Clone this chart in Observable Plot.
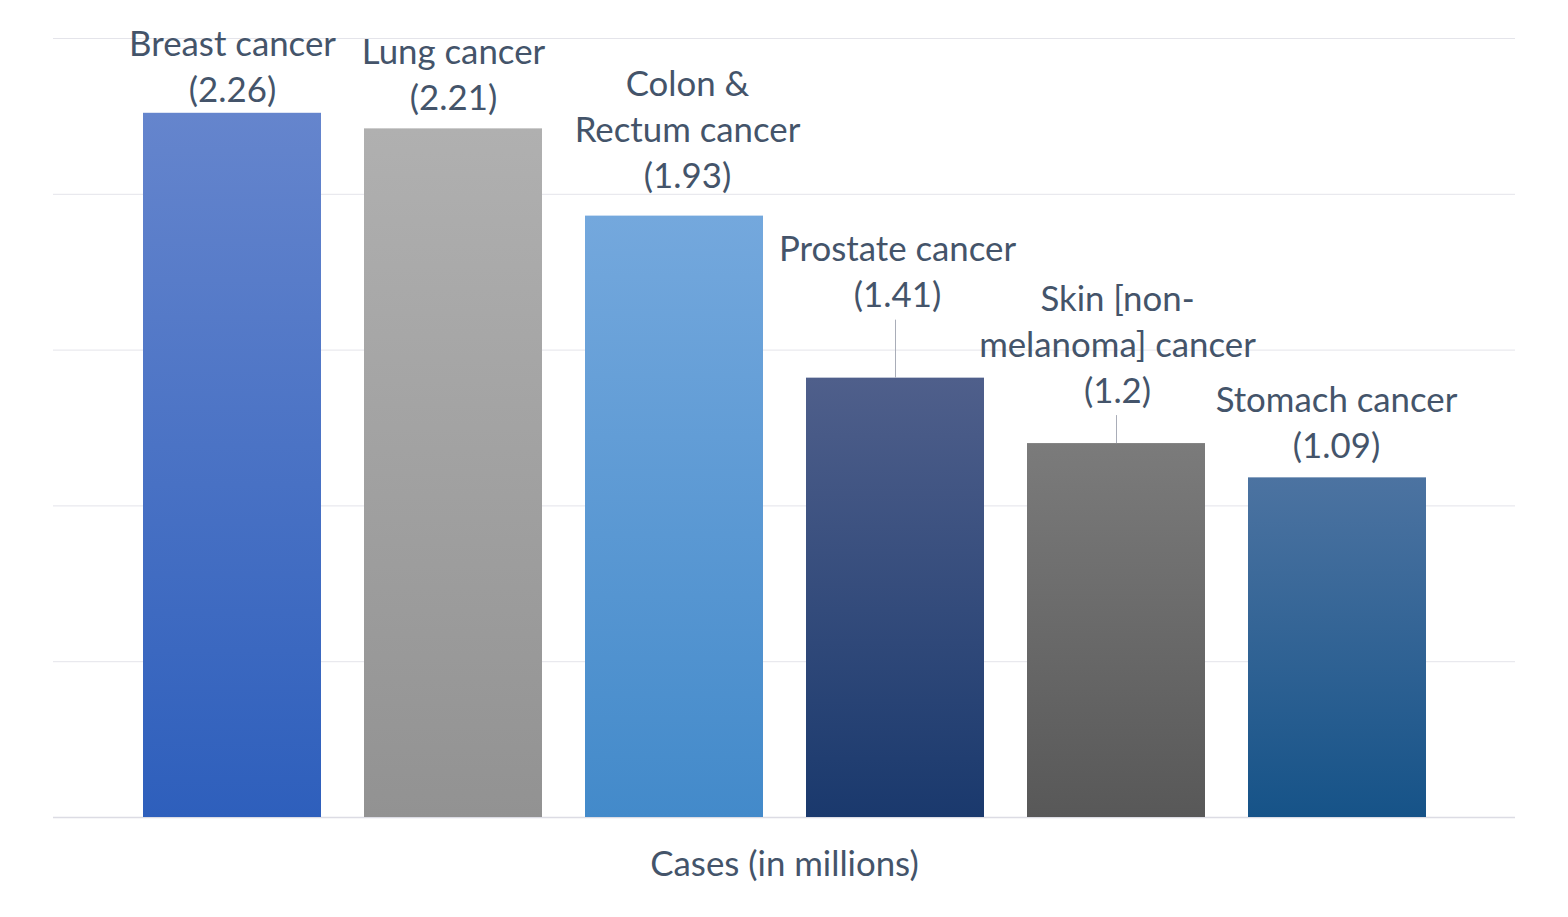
<!DOCTYPE html>
<html>
<head>
<meta charset="utf-8">
<script src="https://cdn.jsdelivr.net/npm/d3@7"></script>
<script src="https://cdn.jsdelivr.net/npm/@observablehq/plot@0.6"></script>
<style>
  html, body { margin: 0; padding: 0; background: #ffffff; }
  #chart { width: 1568px; height: 917px; overflow: hidden; }
</style>
</head>
<body>
<div id="chart"></div>
<script>
// ---- data ----
const categories = ["Breast cancer", "Lung cancer", "Colon & Rectum cancer", "Prostate cancer", "Skin [non-melanoma] cancer", "Stomach cancer"];
const cases = [2.26, 2.21, 1.93, 1.41, 1.2, 1.09];
const labelNames = ["Breast cancer", "Lung cancer", "Colon &\nRectum cancer", "Prostate cancer", "Skin [non-\nmelanoma] cancer", "Stomach cancer"];
const axisTitle = "Cases (in millions)";

// ---- styles ----
const gradTop = ["#6585cd", "#b0b0b0", "#74a8dd", "#4f5f8b", "#7b7b7b", "#4c73a1"];
const gradBottom = ["#2e5fbc", "#929292", "#438aca", "#1a396d", "#585858", "#165388"];
const labelGap = [11, 19, 28, 71, 41, 20];   // px between label baseline and bar top
const labelShift = [0, 0, 13, 2, 1, -1];     // px horizontal nudge
const leaderLen = [0, 0, 0, 58, 28, 0];      // px leader line length
const textColor = "#44546a";
const font = "Lato, 'Open Sans', sans-serif";
const fontSize = 34.8;

const data = categories.map((c, i) => ({
  category: c,
  cases: cases[i],
  label: `${labelNames[i]}\n(${cases[i]})`,
  fill: `url(#barGrad${i})`
}));

const marks = [
  Plot.ruleY([0.5, 1, 1.5, 2, 2.5], {stroke: "#e4e4ea", strokeWidth: 1}),
  Plot.ruleY([0], {stroke: "#dcdce4", strokeWidth: 1.5}),
  Plot.barY(data, {x: "category", y: "cases", fill: "fill"}),
];

data.forEach((d, i) => {
  if (leaderLen[i] > 0) {
    marks.push(Plot.ruleX([d], {x: "category", y1: "cases", y2: "cases", insetTop: -leaderLen[i], stroke: "#a9adb8", strokeWidth: 1}));
  }
  marks.push(Plot.text([d], {
    x: "category", y: "cases", text: "label",
    lineAnchor: "bottom", lineHeight: 46 / fontSize,
    dy: -labelGap[i], dx: labelShift[i],
    fill: textColor, fontSize, fontFamily: font
  }));
});

marks.push(Plot.text([axisTitle], {
  frameAnchor: "bottom", dy: 58, text: (d) => d,
  fill: textColor, fontSize, fontFamily: font
}));

const chart = Plot.plot({
  width: 1568,
  height: 917,
  marginTop: 38,
  marginBottom: 100,
  marginLeft: 53,
  marginRight: 53,
  style: {background: "#ffffff", fontFamily: font, overflow: "visible"},
  x: {domain: categories, paddingInner: 0.195, paddingOuter: 0.4025, axis: null},
  y: {domain: [0, 2.5], axis: null},
  color: {type: "identity"},
  marks
});

// gradient definitions for the bars
const ns = "http://www.w3.org/2000/svg";
const defs = document.createElementNS(ns, "defs");
categories.forEach((c, i) => {
  const g = document.createElementNS(ns, "linearGradient");
  g.setAttribute("id", `barGrad${i}`);
  g.setAttribute("x1", "0"); g.setAttribute("y1", "0");
  g.setAttribute("x2", "0"); g.setAttribute("y2", "1");
  [[0, gradTop[i]], [1, gradBottom[i]]].forEach(([o, col]) => {
    const s = document.createElementNS(ns, "stop");
    s.setAttribute("offset", o);
    s.setAttribute("stop-color", col);
    g.appendChild(s);
  });
  defs.appendChild(g);
});
chart.insertBefore(defs, chart.firstChild);

document.getElementById("chart").appendChild(chart);
</script>
</body>
</html>
